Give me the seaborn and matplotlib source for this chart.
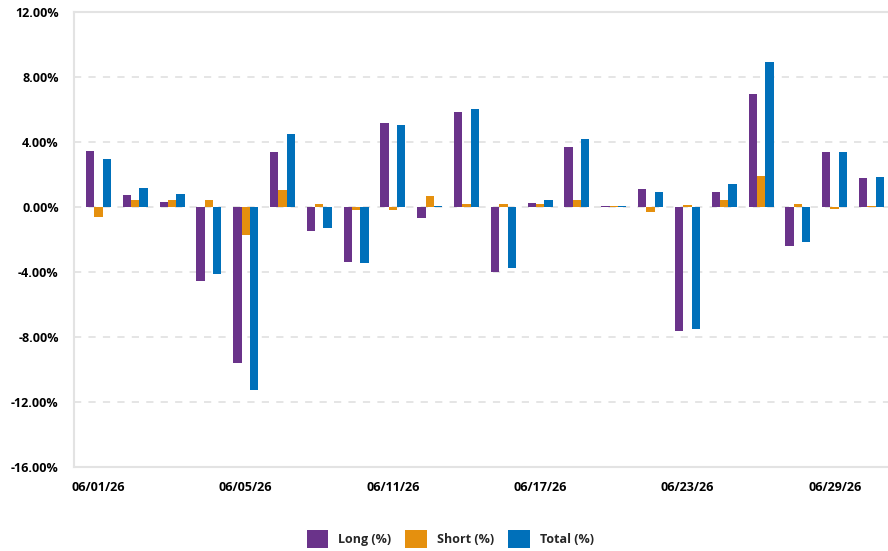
"""
Daily long / short / total returns, grouped bars
"""
import matplotlib
matplotlib.use('Agg')
import matplotlib.pyplot as plt
from matplotlib.patches import Patch
from matplotlib.ticker import FuncFormatter
import pandas as pd
import seaborn as sns

DATES = ['06/01/26', '06/02/26', '06/03/26', '06/04/26', '06/05/26', '06/08/26',
         '06/09/26', '06/10/26', '06/11/26', '06/12/26', '06/15/26', '06/16/26',
         '06/17/26', '06/18/26', '06/19/26', '06/22/26', '06/23/26', '06/24/26',
         '06/25/26', '06/26/26', '06/29/26', '06/30/26']
LONG = [3.46, 0.76, 0.33, -4.51, -9.56, 3.40, -1.44, -3.37, 5.19, -0.66, 5.86,
        -3.98, 0.26, 3.71, 0.07, 1.13, -7.61, 0.94, 6.97, -2.38, 3.40, 1.80]
SHORT = [-0.58, 0.45, 0.45, 0.45, -1.70, 1.06, 0.20, -0.17, -0.17, 0.70, 0.20,
         0.20, 0.20, 0.45, 0.06, -0.29, 0.14, 0.45, 1.94, 0.20, -0.10, 0.08]
TOTAL = [2.97, 1.19, 0.82, -4.08, -11.22, 4.54, -1.27, -3.43, 5.06, 0.08, 6.05,
         -3.74, 0.45, 4.20, 0.07, 0.94, -7.49, 1.43, 8.94, -2.14, 3.40, 1.86]
SERIES = ['Long (%)', 'Short (%)', 'Total (%)']
COLORS = ['#6a338a', '#e5900e', '#0070ba']
Y_TICKS = [-16, -12, -8, -4, 0, 4, 8, 12]
LABEL_EVERY = 4

df = pd.DataFrame({'date': DATES * 3,
                   'value': LONG + SHORT + TOTAL,
                   'series': [s for s in SERIES for _ in DATES]})

sns.set_style('white')
plt.rcParams['font.family'] = ['Open Sans', 'DejaVu Sans']

fig, ax = plt.subplots(figsize=(8.88, 5.51), dpi=100)
fig.subplots_adjust(left=0.0833, right=1.0, top=0.9777, bottom=0.152)

sns.barplot(data=df, x='date', y='value', hue='series', palette=COLORS,
            width=0.68, gap=0, saturation=1, errorbar=None, ax=ax, legend=False,
            linewidth=0, edgecolor='none')

ax.set_ylim(-16, 12)
ax.set_xlim(-0.666, 21.45)
ax.set_yticks(Y_TICKS)
ax.yaxis.set_major_formatter(FuncFormatter(lambda v, _: '{:.2f}%'.format(v)))
ax.set_xticks(range(0, len(DATES), LABEL_EVERY))
ax.set_xticklabels(DATES[::LABEL_EVERY])
ax.set_xlabel('')
ax.set_ylabel('')
ax.tick_params(axis='both', length=0, labelsize=9, colors='black')
ax.tick_params(axis='y', pad=11)
ax.tick_params(axis='x', pad=10)
for lab in ax.get_xticklabels() + ax.get_yticklabels():
    lab.set_fontweight('bold')

for y in Y_TICKS[1:-1]:
    ax.axhline(y, color='#e3e3e3', linewidth=1.3, linestyle=(0, (4, 4)), zorder=0)
for side in ['left', 'top', 'bottom']:
    ax.spines[side].set_color('#e3e3e3')
    ax.spines[side].set_linewidth(1.5)
ax.spines['right'].set_visible(False)

handles = [Patch(facecolor=c, edgecolor='none') for c in COLORS]
fig.legend(handles, SERIES, loc='center', bbox_to_anchor=(0.507, 0.022), ncol=3,
           frameon=False, handlelength=1.75, handleheight=1.75, handletextpad=0.8,
           columnspacing=1.1, prop={'size': 9, 'weight': 'bold'})

fig.savefig('out.png', dpi=100)
plt.close(fig)
